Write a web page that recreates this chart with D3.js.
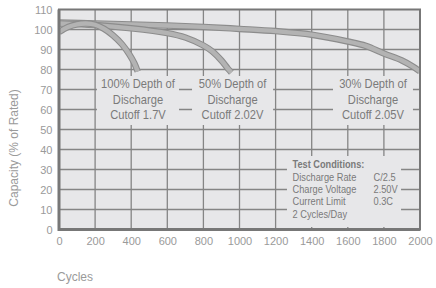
<!DOCTYPE html>
<html>
<head>
<meta charset="utf-8">
<script src="https://cdn.jsdelivr.net/npm/d3@7"></script>
<style>
  body { margin: 0; background: #fff; }
  svg { display: block; }
  .tick-label { font-family: "Liberation Sans", Arial, sans-serif; font-size: 11px; fill: #9a9a9a; }
  .note { font-family: "Liberation Sans", Arial, sans-serif; fill: #7a7a7a; }
</style>
</head>
<body>
<svg width="436" height="288"></svg>
<script>
// curve readings: [cycles, capacity %]
const curve30 = [[0, 103.5], [200, 103], [400, 102.5], [600, 102], [800, 101.3], [1000, 100.3], [1200, 99.2], [1400, 97.4], [1600, 94], [1700, 91.8], [1800, 88], [1900, 84.5], [1960, 81.5], [2000, 79]];
const curve50 = [[0, 103], [200, 102.2], [400, 100.6], [600, 98.2], [700, 96], [800, 92], [850, 89], [900, 84.5], [935, 80.5], [955, 78.5]];
const curve100 = [[0, 98.7], [50, 101.2], [100, 102.6], [150, 103], [200, 102.4], [250, 100.3], [300, 97], [350, 92.5], [390, 87.5], [418, 83], [436, 79]];

const xTicks = [0, 200, 400, 600, 800, 1000, 1200, 1400, 1600, 1800, 2000];
const yTicks = [0, 10, 20, 30, 40, 50, 60, 70, 80, 90, 100, 110];

const labels = [
    { lines: ["100% Depth of", "Discharge", "Cutoff 1.7V"], x0: 210, x1: 665 },
    { lines: ["50% Depth of", "Discharge", "Cutoff 2.02V"], x0: 737, x1: 1186 },
    { lines: ["30% Depth of", "Discharge", "Cutoff 2.05V"], x0: 1518, x1: 1961 }
];
const conditions = [
    ["Discharge Rate", "C/2.5"],
    ["Charge Voltage", "2.50V"],
    ["Current Limit", "0.3C"],
    ["2 Cycles/Day", ""]
];

const svg = d3.select("svg");
const x = d3.scaleLinear().domain([0, 2000]).range([59, 420]);
const y = d3.scaleLinear().domain([0, 110]).range([229.5, 9.5]);

svg.append("clipPath").attr("id", "plot")
    .append("rect")
    .attr("x", x(0)).attr("y", y(110))
    .attr("width", x(2000) - x(0)).attr("height", y(0) - y(110));

// plot background
svg.append("rect")
    .attr("x", x(0)).attr("y", y(110))
    .attr("width", x(2000) - x(0)).attr("height", y(0) - y(110))
    .attr("fill", "#e7e7e9");

// grid
const grid = svg.append("g").attr("stroke", "#858585").attr("stroke-width", 1.3);
grid.selectAll("line.v").data(xTicks.slice(1, -1)).enter().append("line")
    .attr("x1", d => x(d)).attr("x2", d => x(d))
    .attr("y1", y(0)).attr("y2", y(110));
grid.selectAll("line.h").data(yTicks.slice(1, -1)).enter().append("line")
    .attr("x1", x(0)).attr("x2", x(2000))
    .attr("y1", d => y(d)).attr("y2", d => y(d));

// curves: dark outline with lighter fill
const line = d3.line()
    .x(d => x(d[0])).y(d => y(d[1]))
    .curve(d3.curveCatmullRom.alpha(0.5));
const curves = svg.append("g").attr("clip-path", "url(#plot)");
[curve30, curve50, curve100].forEach(c => {
    curves.append("path").attr("d", line(c))
        .attr("fill", "none").attr("stroke", "#8c8c8c").attr("stroke-width", 6.5);
    curves.append("path").attr("d", line(c))
        .attr("fill", "none").attr("stroke", "#b3b3b3").attr("stroke-width", 4.3);
});

// annotation boxes
const boxTop = 76.75, boxBottom = 52.25;
labels.forEach(l => {
    svg.append("rect")
        .attr("x", x(l.x0)).attr("y", y(boxTop))
        .attr("width", x(l.x1) - x(l.x0)).attr("height", y(boxBottom) - y(boxTop))
        .attr("fill", "#e7e7e9");
    const cx = (x(l.x0) + x(l.x1)) / 2;
    l.lines.forEach((t, i) => {
        svg.append("text").attr("class", "note")
            .attr("transform", `translate(${cx},${88 + i * 15.5}) scale(0.86,1)`)
            .attr("text-anchor", "middle")
            .attr("font-size", 13)
            .text(t);
    });
});

svg.append("rect")
    .attr("x", x(1263)).attr("y", y(36.75))
    .attr("width", x(1895) - x(1263)).attr("height", y(1.25) - y(36.75))
    .attr("fill", "#e7e7e9");
svg.append("text").attr("class", "note")
    .attr("transform", "translate(292.5,168.3) scale(0.8,1)")
    .attr("font-size", 11.5).attr("font-weight", "bold")
    .text("Test Conditions:");
conditions.forEach((c, i) => {
    svg.append("text").attr("class", "note")
        .attr("transform", `translate(292.5,${180.8 + i * 12.3}) scale(0.82,1)`)
        .attr("font-size", 11.3)
        .text(c[0]);
    svg.append("text").attr("class", "note")
        .attr("transform", `translate(373.5,${180.8 + i * 12.3}) scale(0.82,1)`)
        .attr("font-size", 11.3)
        .text(c[1]);
});

// frame
svg.append("rect")
    .attr("x", x(0)).attr("y", y(110))
    .attr("width", x(2000) - x(0)).attr("height", y(0) - y(110))
    .attr("fill", "none").attr("stroke", "#777").attr("stroke-width", 2);
svg.append("path")
    .attr("d", `M${x(0)},${y(110)}V${y(0)}H${x(2000)}`)
    .attr("fill", "none").attr("stroke", "#777").attr("stroke-width", 3);

// axes labels
const xAxis = d3.axisBottom(x).tickValues(xTicks).tickFormat(d3.format("d")).tickSize(0).tickPadding(0);
const gx = svg.append("g").attr("transform", `translate(0,${y(0) + 8})`).call(xAxis);
gx.select(".domain").remove();
gx.selectAll("text").attr("class", "tick-label").attr("dy", "0.71em").attr("fill", null);

const yAxis = d3.axisLeft(y).tickValues(yTicks).tickFormat(d3.format("d")).tickSize(0).tickPadding(0);
const gy = svg.append("g").attr("transform", `translate(${x(0) - 6.5},0)`).call(yAxis);
gy.select(".domain").remove();
gy.selectAll("text").attr("class", "tick-label").attr("fill", null);

svg.append("text").attr("class", "tick-label")
    .attr("x", 57).attr("y", 280.5)
    .style("font-size", "12px")
    .text("Cycles");
svg.append("text").attr("class", "tick-label")
    .attr("transform", "translate(18,148) rotate(-90)")
    .attr("text-anchor", "middle")
    .style("font-size", "12px")
    .text("Capacity (% of Rated)");
</script>
</body>
</html>
